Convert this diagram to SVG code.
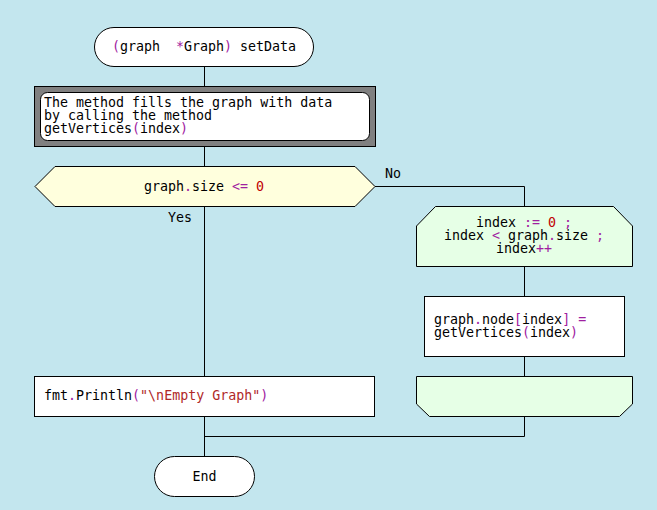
<svg xmlns="http://www.w3.org/2000/svg" width="657" height="510" viewBox="0 0 657 510">
<style>
.t{font-family:"DejaVu Sans Mono","Liberation Mono",monospace;font-size:13.3px;fill:#000;white-space:pre}
.p{fill:#A020A0}
.r{fill:#C00000}
.s{fill:#B02828}
.sh{stroke:#000;stroke-width:1}
.ln{stroke:#000;stroke-width:1;fill:none}
</style>
<rect x="0" y="0" width="657" height="510" fill="#C3E6EE"/>
<g id="connectors">
<path class="ln" d="M204.5 66V86"/>
<path class="ln" d="M204.5 146V166"/>
<path class="ln" d="M204.5 206V376"/>
<path class="ln" d="M375 186.5H524.5V206"/>
<path class="ln" d="M524.5 267V296"/>
<path class="ln" d="M524.5 356V376"/>
<path class="ln" d="M524.5 416V436.5H204.5"/>
<path class="ln" d="M204.5 416V456"/>
<text class="t" x="385" y="177.5">No</text>
<text class="t" x="168" y="221.5">Yes</text>
</g>
<g id="start">
<rect class="sh" x="94.5" y="27.5" width="219" height="39" rx="19.5" fill="#fff"/>
<text class="t" x="204" y="50.5" text-anchor="middle" xml:space="preserve"><tspan class="p">(</tspan>graph  <tspan class="p">*</tspan>Graph<tspan class="p">)</tspan> setData</text>
</g>
<g id="comment">
<rect class="sh" x="34.5" y="86.5" width="341" height="60" fill="#808080"/>
<rect class="sh" x="40.5" y="92.5" width="329" height="48" rx="7" fill="#fff"/>
<text class="t" x="44" y="106.5">The method fills the graph with data</text>
<text class="t" x="44" y="119.5">by calling the method</text>
<text class="t" x="44" y="132.5">getVertices<tspan class="p">(</tspan>index<tspan class="p">)</tspan></text>
</g>
<g id="decision">
<polygon class="sh" points="35,186.5 55,166.5 355,166.5 375,186.5 355,206.5 55,206.5" fill="#FFFFDD"/>
<text class="t" x="204" y="190.5" text-anchor="middle">graph<tspan class="p">.</tspan>size <tspan class="p">&lt;=</tspan> <tspan class="r">0</tspan></text>
</g>
<g id="loop-start">
<polygon class="sh" points="416.5,226 435.5,206.5 613.5,206.5 632.5,226 632.5,266.5 416.5,266.5" fill="#E6FFE6"/>
<text class="t" x="524" y="226.5" text-anchor="middle">index <tspan class="p">:=</tspan> <tspan class="r">0</tspan> <tspan class="p">;</tspan></text>
<text class="t" x="524" y="239.5" text-anchor="middle">index <tspan class="p">&lt;</tspan> graph<tspan class="p">.</tspan>size <tspan class="p">;</tspan></text>
<text class="t" x="524" y="252.5" text-anchor="middle">index<tspan class="p">++</tspan></text>
</g>
<g id="assign">
<rect class="sh" x="424.5" y="296.5" width="200" height="60" fill="#fff"/>
<text class="t" x="434" y="323.5">graph<tspan class="p">.</tspan>node<tspan class="p">[</tspan>index<tspan class="p">]</tspan> <tspan class="p">=</tspan></text>
<text class="t" x="434" y="336.5">getVertices<tspan class="p">(</tspan>index<tspan class="p">)</tspan></text>
</g>
<g id="loop-end">
<polygon class="sh" points="416.5,376.5 632.5,376.5 632.5,404 619.5,416.5 429.5,416.5 416.5,404" fill="#E6FFE6"/>
</g>
<g id="print">
<rect class="sh" x="34.5" y="376.5" width="340" height="40" fill="#fff"/>
<text class="t" x="44" y="399.5">fmt<tspan class="p">.</tspan>Println<tspan class="p">(</tspan><tspan class="s">"\nEmpty Graph"</tspan><tspan class="p">)</tspan></text>
</g>
<g id="end">
<rect class="sh" x="154.5" y="456.5" width="100" height="40" rx="20" fill="#fff"/>
<text class="t" x="204.5" y="480.5" text-anchor="middle">End</text>
</g>
</svg>
